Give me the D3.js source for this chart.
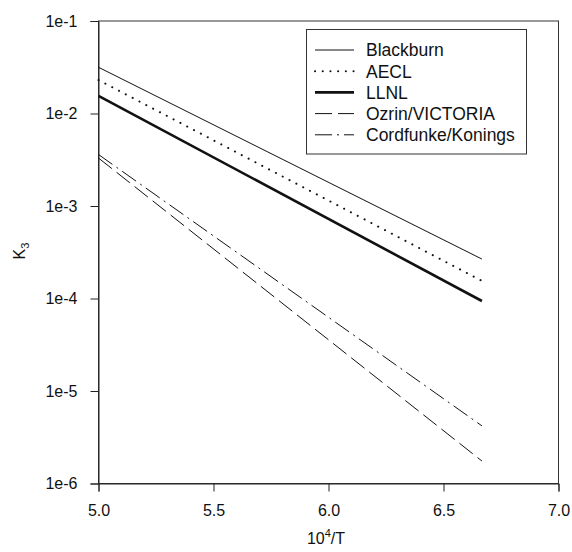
<!DOCTYPE html>
<html>
<head>
<meta charset="utf-8">
<script src="https://cdn.jsdelivr.net/npm/d3@7"></script>
<style>
  html, body { margin: 0; padding: 0; background: #fff; }
  svg { display: block; font-family: "Liberation Sans", Arial, Helvetica, sans-serif; }
</style>
</head>
<body>
<svg id="chart" width="572" height="552"></svg>
<script>
// Equilibrium constant K3 versus reciprocal temperature, five evaluations.
const seriesNames = ["Blackburn", "AECL", "LLNL", "Ozrin/VICTORIA", "Cordfunke/Konings"];
const xStart = [5.0, 5.0, 5.0, 5.0, 5.0];
const xEnd = [6.667, 6.667, 6.667, 6.667, 6.667];
const kStart = [3.16e-2, 2.3e-2, 1.55e-2, 3.3e-3, 3.6e-3];
const kEnd = [2.67e-4, 1.55e-4, 9.4e-5, 1.75e-6, 4.2e-6];

const xTicks = [5.0, 5.5, 6.0, 6.5, 7.0];
const yTicks = [1e-1, 1e-2, 1e-3, 1e-4, 1e-5, 1e-6];
const yTickLabels = ["1e-1", "1e-2", "1e-3", "1e-4", "1e-5", "1e-6"];

const styles = [
  { width: 1, dash: null },
  { width: 2, dash: "0.1,7.6", cap: "round" },
  { width: 2.6, dash: null },
  { width: 1, dash: "17,6" },
  { width: 1, dash: "17,5,2,5" }
];

const margin = { left: 98.5, right: 13.5, top: 21, bottom: 68.5 };
const W = 572, H = 552;
const svg = d3.select("#chart");

const x = d3.scaleLinear().domain([5.0, 7.0]).range([margin.left, W - margin.right]);
const y = d3.scaleLog().domain([1e-6, 1e-1]).range([H - margin.bottom, margin.top]);

// Frame
svg.append("rect")
  .attr("x", x(5.0)).attr("y", y(1e-1))
  .attr("width", x(7.0) - x(5.0)).attr("height", y(1e-6) - y(1e-1))
  .attr("fill", "none").attr("stroke", "#333").attr("stroke-width", 1);

// Axes
const xAxis = d3.axisBottom(x).tickValues(xTicks).tickFormat(d3.format(".1f")).tickSize(8).tickPadding(13);
const yAxis = d3.axisLeft(y).tickValues(yTicks).tickFormat((d, i) => yTickLabels[i]).tickSize(8).tickPadding(13);

const gx = svg.append("g").attr("transform", `translate(0,${y(1e-6)})`).call(xAxis);
const gy = svg.append("g").attr("transform", `translate(${x(5.0)},0)`).call(yAxis);
[gx, gy].forEach(g => {
  g.select(".domain").attr("stroke", "#222");
  g.selectAll(".tick line").attr("stroke", "#222");
  g.selectAll(".tick text").attr("fill", "#111").style("font-size", "16px");
});

// Series lines
const line = d3.line().x(d => x(d[0])).y(d => y(d[1]));
seriesNames.forEach((name, i) => {
  const pts = [[xStart[i], kStart[i]], [xEnd[i], kEnd[i]]];
  svg.append("path")
    .datum(pts)
    .attr("d", line)
    .attr("fill", "none")
    .attr("stroke", "#111")
    .attr("stroke-width", styles[i].width)
    .attr("stroke-dasharray", styles[i].dash)
    .attr("stroke-linecap", styles[i].cap || "butt");
});

// Legend
const lg = svg.append("g");
lg.append("rect")
  .attr("x", 306.5).attr("y", 29.5).attr("width", 220).attr("height", 124.5)
  .attr("fill", "#fff").attr("stroke", "#333").attr("stroke-width", 1);
seriesNames.forEach((name, i) => {
  const cy = 50 + i * 21.2;
  lg.append("line")
    .attr("x1", 315).attr("x2", 354).attr("y1", cy).attr("y2", cy)
    .attr("stroke", "#111")
    .attr("stroke-width", styles[i].width)
    .attr("stroke-dasharray", styles[i].dash)
    .attr("stroke-linecap", styles[i].cap || "butt");
  lg.append("text")
    .attr("x", 366).attr("y", cy).attr("dy", "0.36em")
    .attr("fill", "#111").style("font-size", "17.5px")
    .text(name);
});

// Axis titles
const xt = svg.append("text")
  .attr("x", 326).attr("y", 544)
  .attr("text-anchor", "middle").attr("fill", "#111").style("font-size", "16px");
xt.append("tspan").text("10");
xt.append("tspan").attr("dy", -7).style("font-size", "11px").text("4");
xt.append("tspan").attr("dy", 7).text("/T");

const yt = svg.append("text")
  .attr("transform", "translate(25,251) rotate(-90)")
  .attr("text-anchor", "middle").attr("fill", "#111").style("font-size", "16px");
yt.append("tspan").text("K");
yt.append("tspan").attr("dy", 4).style("font-size", "11px").text("3");
</script>
</body>
</html>
